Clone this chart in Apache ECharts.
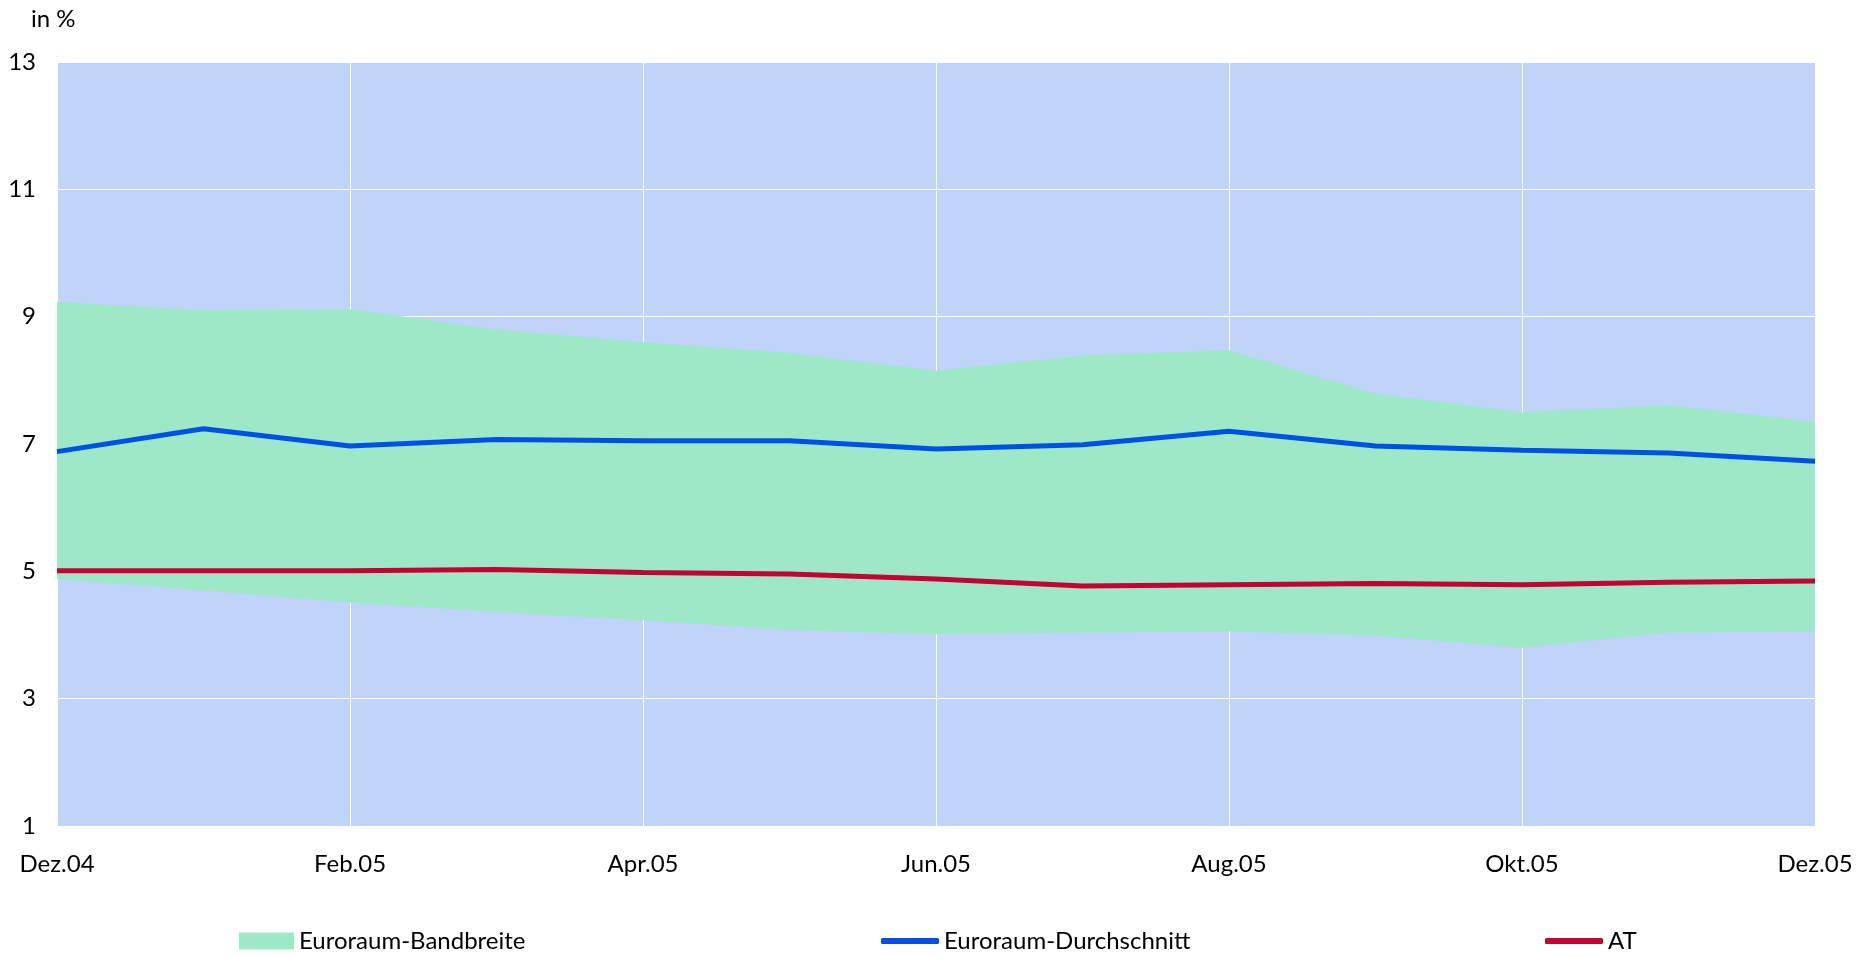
<!DOCTYPE html>
<html>
<head>
<meta charset="utf-8">
<title>Euroraum</title>
<script src="https://cdn.jsdelivr.net/npm/echarts@6/dist/echarts.min.js"></script>
<style>
  html, body { margin: 0; padding: 0; background: #fff; }
  #chart { width: 1864px; height: 958px; }
</style>
</head>
<body>
<div id="chart"></div>
<script>
// Monate Dez.04 - Dez.05
const months = ['Dez.04', 'Jan.05', 'Feb.05', 'Mär.05', 'Apr.05', 'Mai.05', 'Jun.05',
  'Jul.05', 'Aug.05', 'Sep.05', 'Okt.05', 'Nov.05', 'Dez.05'];
// Bandbreite (unten / oben)
const bandLow = [4.88, 4.70, 4.51, 4.36, 4.23, 4.08, 4.01, 4.04, 4.06, 3.99, 3.80, 4.04, 4.06];
const bandHigh = [9.23, 9.10, 9.12, 8.80, 8.60, 8.43, 8.15, 8.39, 8.47, 7.79, 7.50, 7.61, 7.35];
// Euroraum-Durchschnitt
const euroAvg = [6.88, 7.24, 6.97, 7.07, 7.05, 7.05, 6.92, 6.99, 7.20, 6.97, 6.90, 6.86, 6.73];
// AT
const atValues = [5.01, 5.01, 5.01, 5.03, 4.98, 4.96, 4.88, 4.77, 4.79, 4.81, 4.79, 4.83, 4.85];
const yTicks = [1, 3, 5, 7, 9, 11, 13];

const font = 'Lato, "Open Sans", sans-serif';
const bandColor = '#9de8c7';
const blueColor = '#0050e8';
const redColor = '#c40034';

const chart = echarts.init(document.getElementById('chart'));

// Differenz fuer das gestapelte Band
const bandWidth = bandHigh.map((v, i) => +(v - bandLow[i]).toFixed(2));

const legendBase = {
  top: 924,
  itemGap: 0,
  textStyle: { fontFamily: font, fontSize: 24, color: '#000' },
  selectedMode: false
};

const option = {
  animation: false,
  title: {
    text: 'in %',
    left: 26,
    top: 2,
    textStyle: { fontFamily: font, fontSize: 24, fontWeight: 'normal', color: '#000' }
  },
  grid: {
    left: 57,
    right: 49,
    top: 62,
    bottom: 132,
    show: true,
    backgroundColor: '#c0d3f9',
    borderWidth: 0
  },
  legend: [
    Object.assign({}, legendBase, {
      left: 234,
      data: ['Euroraum-Bandbreite'],
      icon: 'rect',
      itemWidth: 55,
      itemHeight: 17
    }),
    Object.assign({}, legendBase, {
      left: 876,
      data: ['Euroraum-Durchschnitt'],
      icon: 'roundRect',
      itemWidth: 58,
      itemHeight: 6
    }),
    Object.assign({}, legendBase, {
      left: 1540,
      data: ['AT'],
      icon: 'roundRect',
      itemWidth: 58,
      itemHeight: 6
    })
  ],
  xAxis: {
    type: 'category',
    data: months,
    boundaryGap: false,
    axisLine: { show: false },
    axisTick: { show: false },
    axisLabel: {
      interval: 1,
      margin: 26,
      color: '#000',
      fontFamily: font,
      fontSize: 24
    },
    splitLine: {
      show: true,
      interval: 1,
      lineStyle: { color: '#ffffff', width: 1 }
    }
  },
  yAxis: {
    type: 'value',
    min: yTicks[0],
    max: yTicks[yTicks.length - 1],
    interval: 2,
    axisLine: { show: false },
    axisTick: { show: false },
    axisLabel: {
      margin: 21,
      color: '#000',
      fontFamily: font,
      fontSize: 24
    },
    splitLine: { lineStyle: { color: '#ffffff', width: 1 } }
  },
  series: [
    {
      name: 'Basis',
      type: 'line',
      stack: 'band',
      data: bandLow,
      symbol: 'none',
      lineStyle: { opacity: 0 },
      silent: true
    },
    {
      name: 'Euroraum-Bandbreite',
      type: 'line',
      stack: 'band',
      data: bandWidth,
      symbol: 'none',
      lineStyle: { opacity: 0 },
      itemStyle: { color: bandColor },
      areaStyle: { color: bandColor, opacity: 1 }
    },
    {
      name: 'Euroraum-Durchschnitt',
      type: 'line',
      data: euroAvg,
      symbol: 'none',
      itemStyle: { color: blueColor },
      lineStyle: { color: blueColor, width: 5 }
    },
    {
      name: 'AT',
      type: 'line',
      data: atValues,
      symbol: 'none',
      itemStyle: { color: redColor },
      lineStyle: { color: redColor, width: 5 }
    }
  ]
};

chart.setOption(option);
</script>
</body>
</html>
